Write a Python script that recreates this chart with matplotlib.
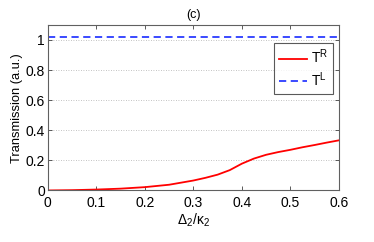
import numpy as np
import matplotlib
matplotlib.use("Agg")
import matplotlib.pyplot as plt

# values
detuning = [0, 0.05, 0.1, 0.15, 0.2, 0.25, 0.3, 0.325, 0.35, 0.375, 0.4,
            0.425, 0.45, 0.475, 0.5, 0.525, 0.55, 0.575, 0.6]
t_right = [0, 0.002, 0.006, 0.012, 0.022, 0.038, 0.066, 0.084, 0.105, 0.135,
           0.178, 0.212, 0.237, 0.255, 0.27, 0.287, 0.302, 0.318, 0.333]
t_left = [1.02] * len(detuning)

plt.rcParams['font.family'] = ['Liberation Sans', 'DejaVu Sans']
plt.rcParams['mathtext.fontset'] = 'custom'
plt.rcParams['mathtext.rm'] = 'Liberation Sans'
plt.rcParams['mathtext.it'] = 'Liberation Sans'

fig = plt.figure(figsize=(3.74, 2.42), dpi=100)
ax = fig.add_axes([0.128, 0.213, 0.778, 0.684])

ax.plot(detuning, t_right, color='#ff0000', lw=1.3, label=r'T$^{\mathrm{R}}$')
ax.plot(detuning, t_left, color='#2b3cff', lw=1.3, ls=(0, (4, 2.5)),
        label=r'T$^{\mathrm{L}}$')

ax.set_xlim(0, 0.6)
ax.set_ylim(0, 1.1)
ax.set_xticks(np.arange(0, 0.61, 0.1))
ax.set_xticklabels(['0', '0.1', '0.2', '0.3', '0.4', '0.5', '0.6'])
ax.set_yticks([0, 0.2, 0.4, 0.6, 0.8, 1])
ax.set_yticklabels(['0', '0.2', '0.4', '0.6', '0.8', '1'])
ax.yaxis.grid(True, ls=(0, (1, 2)), color='#b0b0b0', lw=0.6)
ax.tick_params(direction='in', top=True, right=True, labelsize=10,
               length=3, width=0.6, color='#404040')
ax.tick_params(axis='x', pad=4)
ax.tick_params(axis='y', pad=2)
for s in ax.spines.values():
    s.set_color('#606060')
    s.set_linewidth(0.8)

ax.set_xlabel(r'$\Delta_2/\kappa_2$', fontsize=10, labelpad=1)
ax.set_ylabel('Transmission (a.u.)', fontsize=9.3, labelpad=2)
ax.set_title('(c)', fontsize=9, pad=5)

leg = ax.legend(loc='upper right', bbox_to_anchor=(0.979, 0.891),
                borderaxespad=0, fontsize=10, fancybox=False,
                handlelength=2.0, handletextpad=0.3, labelspacing=0.3,
                borderpad=0.35)
leg.get_frame().set_edgecolor('#303030')
leg.get_frame().set_linewidth(0.8)

fig.savefig('out.png', dpi=100)
